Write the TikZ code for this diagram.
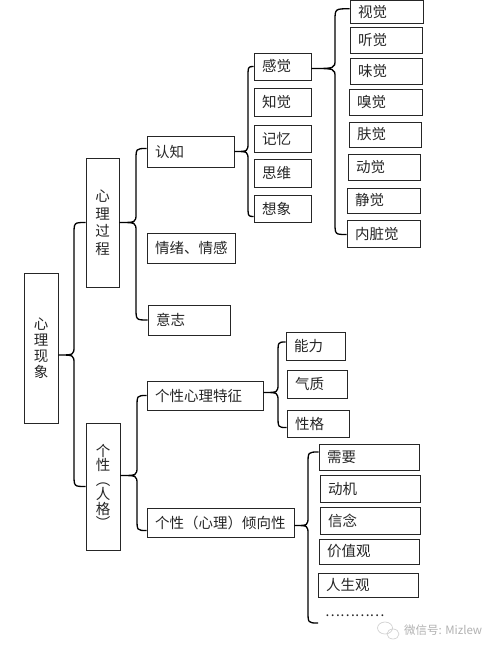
\documentclass[tikz,border=0pt]{standalone}
\usepackage{fontspec}
\setmainfont{Noto Sans CJK SC}
\usetikzlibrary{calc}
\tikzset{
  box/.style={draw=black!85,line width=0.8pt,inner xsep=8pt,inner ysep=0pt,align=left,
    font=\fontsize{14.5}{16}\selectfont,text=black!85},
  vbox/.style={box,align=center},
  brc/.style={draw=black,line width=1.3pt},
}
\newcommand\bx[7][]{%
  \pgfmathsetmacro\bxw{#5-#3}\pgfmathsetmacro\bxh{#6-#4}\pgfmathsetmacro\bxt{#5-#3-16}%
  \node[box,minimum width=\bxw pt,minimum height=\bxh pt,text width=\bxt pt,#1] (#2) at ({(#3+#5)/2},{(#4+#6)/2}) {#7};}
\newcommand\mybrc[4]{%
  \draw[brc] let \p1=#1,\p2=#2,\p3=#3 in
   (\p2) .. controls (#4pt,\y2) .. (#4pt,\y2-12pt) -- (#4pt,\y1+9pt)
   .. controls (#4pt,\y1) .. (\p1)
   .. controls (#4pt,\y1) .. (#4pt,\y1-9pt) -- (#4pt,\y3+12pt)
   .. controls (#4pt,\y3) .. (\p3);}
\begin{document}
\begin{tikzpicture}[x=1pt,y=-1pt]
\fill[white] (0,0) rectangle (500,652);
\useasboundingbox (0,0) rectangle (500,652);
% main boxes
\bx[vbox]{A}{24}{273}{58}{423}{心\\理\\现\\象}
\bx[vbox,font=\fontsize{14.5}{17.5}\selectfont]{B}{86}{158}{119}{287}{心\\理\\过\\程}
\bx[vbox,font=\fontsize{14.5}{14.5}\selectfont]{C}{86}{423}{120}{550}{个\\性\\︵\\人\\格\\︶}
\bx{D}{147}{136}{234}{167}{认知}
\bx{E}{147}{233}{235}{263}{情绪、情感}
\bx{F}{148}{305}{230}{335}{意志}
\bx{G1}{254}{53}{311}{80}{感觉}
\bx{G2}{254}{88}{311}{116}{知觉}
\bx{G3}{254}{125}{311}{152}{记忆}
\bx{G4}{254}{159}{311}{187}{思维}
\bx{G5}{254}{195}{311}{222}{想象}
\bx{S1}{350}{0.5}{423}{23}{视觉}
\bx{S2}{350}{27}{422}{53}{听觉}
\bx{S3}{350}{58}{422}{84}{味觉}
\bx{S4}{349}{89}{422}{115}{嗅觉}
\bx{S5}{349}{122}{421}{147}{肤觉}
\bx{S6}{348}{154}{420}{180}{动觉}
\bx{S7}{347}{188}{420}{213}{静觉}
\bx{S8}{347}{220}{420}{247}{内脏觉}
\bx{H}{147}{381}{263}{410}{个性心理特征}
\bx{I}{147}{508}{294}{537}{个性（心理）倾向性}
\bx{J1}{286}{332}{345}{360}{能力}
\bx{J2}{287}{370}{347}{398}{气质}
\bx{J3}{287}{410}{349}{437}{性格}
\bx{K1}{319}{444}{419}{470}{需要}
\bx{K2}{320}{475}{420}{502}{动机}
\bx{K3}{320}{507}{420}{534}{信念}
\bx{K4}{319}{539}{419}{564}{价值观}
\bx{K5}{318}{573}{418}{597}{人生观}
\node[font=\fontsize{14}{14}\selectfont,inner sep=0pt,anchor=west,text=black!85] (more) at (325,616) {…………};
\coordinate (kend) at (318,623);
% braces
\mybrc{($(A.east)+(0,7)$)}{(B.west)}{(C.west)}{74}
\mybrc{(B.east)}{($(D.west)+(0,-3)$)}{(F.west)}{136}
\mybrc{(D.east)}{(G1.west)}{($(G5.west)+(0,8)$)}{248}
\mybrc{($(G1.east)+(0,2)$)}{($(S1.west)+(0,-3)$)}{($(S8.west)+(0,1)$)}{335}
\mybrc{($(C.east)+(0,-11)$)}{(H.west)}{($(I.west)+(0,8)$)}{137}
\mybrc{($(H.east)+(0,-3)$)}{($(J1.west)+(0,-4)$)}{($(J3.west)+(0,4)$)}{278}
\mybrc{($(I.east)+(0,3)$)}{($(K1.west)+(0,-5)$)}{(kend)}{308}
% watermark
\draw[gray!40,line width=0.6pt] (385,628) ellipse (7.5pt and 6pt);
\draw[gray!40,line width=0.6pt] (393,634) ellipse (6pt and 5pt);
\node[font=\fontsize{11.5}{12}\selectfont,text=gray!60,anchor=west,inner sep=0pt] (wm) at (404,630) {微信号: Mizlew};
\end{tikzpicture}
\end{document}
